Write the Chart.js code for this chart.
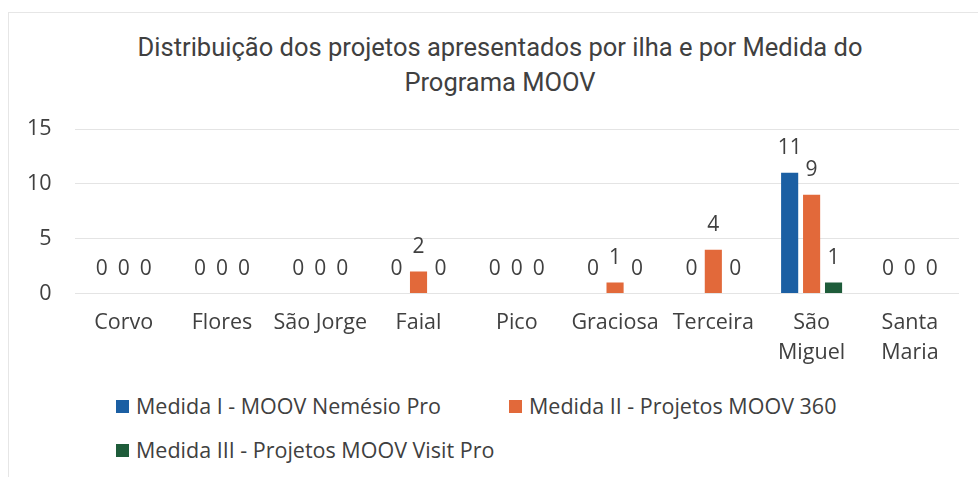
<!DOCTYPE html>
<html lang="pt">
<head>
<meta charset="utf-8">
<script src="https://cdn.jsdelivr.net/npm/chart.js@4.4.1/dist/chart.umd.min.js"></script>
<style>
  body { margin: 0; background: #fff; }
  #wrap { position: relative; width: 978px; height: 477px; background: #fff; overflow: hidden; }
  #frame { position: absolute; left: 8px; top: 12px; width: 980px; height: 470px; border-left: 1px solid #e6e6e6; border-top: 1px solid #e6e6e6; }
  #title { position: absolute; left: 100px; top: 30px; width: 800px; text-align: center; font-family: Roboto, sans-serif; font-size: 25.5px; line-height: 35px; color: #404040; }
  #chart-box { position: absolute; left: 0; top: 0; width: 978px; height: 374px; }
  .legend-item { position: absolute; font-family: "Open Sans", sans-serif; font-size: 21.5px; color: #404040; white-space: nowrap; line-height: 26px; }
  .legend-item span.box { display: inline-block; width: 13px; height: 13px; margin-right: 7px; vertical-align: 1px; }
</style>
</head>
<body>
<div id="wrap">
  <div id="frame"></div>
  <div id="title">Distribuição dos projetos apresentados por ilha e por Medida do<br>Programa MOOV</div>
  <div id="chart-box"><canvas id="chart"></canvas></div>
  <div id="legend"></div>
</div>
<script>
// Dati del grafico
const islands = ['Corvo', 'Flores', 'São Jorge', 'Faial', 'Pico', 'Graciosa', 'Terceira', ['São', 'Miguel'], ['Santa', 'Maria']];
const medidaI = [0, 0, 0, 0, 0, 0, 0, 11, 0];
const medidaII = [0, 0, 0, 2, 0, 1, 4, 9, 0];
const medidaIII = [0, 0, 0, 0, 0, 0, 0, 1, 0];
const seriesNames = ['Medida I - MOOV Nemésio Pro', 'Medida II - Projetos MOOV 360', 'Medida III - Projetos MOOV Visit Pro'];
const seriesColors = ['#1b5fa3', '#e2693a', '#1e5c3a'];
const yTicks = [0, 5, 10, 15];

const textColor = '#404040';
const mainFont = '"Open Sans", sans-serif';

// Plugin per le etichette sopra le barre
const valueLabels = {
    id: 'valueLabels',
    afterDatasetsDraw(chart) {
        const ctx = chart.ctx;
        ctx.save();
        ctx.font = '21px ' + mainFont;
        ctx.fillStyle = textColor;
        ctx.textAlign = 'center';
        ctx.textBaseline = 'middle';
        chart.data.datasets.forEach((ds, i) => {
            chart.getDatasetMeta(i).data.forEach((bar, j) => {
                ctx.fillText(String(ds.data[j]), bar.x, bar.y - 25);
            });
        });
        ctx.restore();
    }
};

const datasets = [medidaI, medidaII, medidaIII].map((values, i) => ({
    label: seriesNames[i],
    data: values,
    backgroundColor: seriesColors[i],
    barPercentage: 0.78,
    categoryPercentage: 0.67
}));

new Chart(document.getElementById('chart'), {
    type: 'bar',
    data: { labels: islands, datasets: datasets },
    options: {
        responsive: true,
        maintainAspectRatio: false,
        animation: false,
        layout: { padding: { left: 4, right: 19, top: 129, bottom: 0 } },
        plugins: {
            legend: { display: false },
            tooltip: { enabled: false },
            title: { display: false }
        },
        scales: {
            x: {
                grid: { display: false },
                border: { display: false },
                ticks: { color: textColor, font: { family: mainFont, size: 21.5, lineHeight: 1.36 }, padding: 7, maxRotation: 0, autoSkip: false }
            },
            y: {
                min: 0,
                max: 15,
                afterBuildTicks: axis => { axis.ticks = yTicks.map(v => ({ value: v })); },
                grid: { color: '#e4e4e4', drawTicks: false },
                border: { display: false },
                ticks: { color: textColor, font: { family: mainFont, size: 21.5 }, padding: 23 }
            }
        }
    },
    plugins: [valueLabels]
});

// Legenda HTML
const legendPos = [[116, 393], [509, 393], [116, 437]];
const legendEl = document.getElementById('legend');
seriesNames.forEach((name, i) => {
    const item = document.createElement('div');
    item.className = 'legend-item';
    item.style.left = legendPos[i][0] + 'px';
    item.style.top = legendPos[i][1] + 'px';
    item.innerHTML = `<span class="box" style="background:${seriesColors[i]}"></span>${name}`;
    legendEl.appendChild(item);
});
</script>
</body>
</html>
